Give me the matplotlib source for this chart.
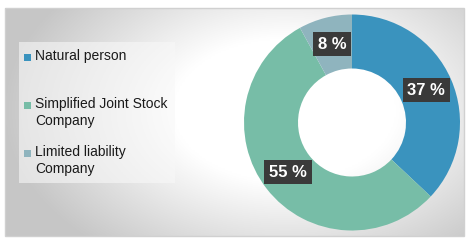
import matplotlib.pyplot as plt
import matplotlib.patches as mpatches
import numpy as np

plt.rcParams['font.family'] = ['Liberation Sans', 'DejaVu Sans']

# Data
categories = ['Natural person', 'Simplified Joint Stock\nCompany', 'Limited liability\nCompany']
shares = [37, 55, 8]
colors = ['#3a93be', '#77bda7', '#8fb4be']

W, H = 474, 244
fig = plt.figure(figsize=(W / 100, H / 100), dpi=100)
fig.patch.set_facecolor('white')

# background panel in pixel coordinates
bg = fig.add_axes([0, 0, 1, 1])
bg.set_xlim(0, W)
bg.set_ylim(H, 0)
bg.axis('off')

x0, y0, x1, y1 = 5, 8, 464, 236
xx, yy = np.meshgrid(np.linspace(x0, x1, 300), np.linspace(y0, y1, 150))
t = np.sqrt(((xx - 285) / 280) ** 2 + ((yy - 110) / 180) ** 2)
t = np.clip((t - 0.4) / 0.6, 0, 1)
grey = 1 - t * (1 - 0.78)
img = np.dstack([grey, grey, grey])
bg.imshow(img, extent=(x0, x1, y1, y0), aspect='auto', zorder=0)
bg.add_patch(mpatches.Rectangle((x0, y0), x1 - x0, y1 - y0, fill=False,
                                edgecolor='#d0d0d0', lw=1, zorder=1))

# legend panel
bg.add_patch(mpatches.Rectangle((19, 42), 156, 141, facecolor='#f8f8f8',
                                edgecolor='none', alpha=0.6, zorder=2))
entry_y = [57, 105, 153]
for lab, col, ly in zip(categories, colors, entry_y):
    bg.add_patch(mpatches.Rectangle((24, ly - 3.5), 7, 7, facecolor=col,
                                    edgecolor='none', zorder=3))
    bg.text(35, ly - 8, lab, fontsize=10, color='#1a1a1a', va='top',
            ha='left', linespacing=1.25, zorder=3)

# donut
cx, cy, r = 352, 122.5, 108
ax = fig.add_axes([(cx - r) / W, (H - cy - r) / H, 2 * r / W, 2 * r / H])
wedges, texts, autotexts = ax.pie(
    shares, colors=colors, startangle=90, counterclock=False,
    wedgeprops=dict(width=0.5, edgecolor='none'),
    autopct=lambda p: f'{p:.0f} %', pctdistance=0.75)
for at in autotexts:
    at.set_color('white')
    at.set_fontsize(12)
    at.set_fontweight('bold')
    at.set_bbox(dict(boxstyle='square,pad=0.28', facecolor='#3a3a3a',
                     edgecolor='none'))
ax.set_xlim(-1, 1)
ax.set_ylim(-1, 1)
ax.axis('off')

fig.savefig('out.png', dpi=100)
